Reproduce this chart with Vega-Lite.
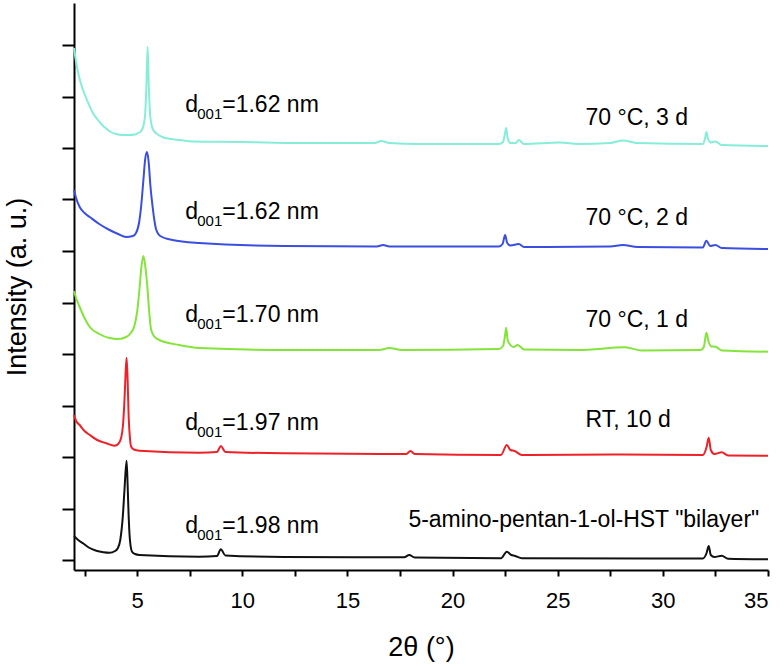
{
  "$schema": "https://vega.github.io/schema/vega-lite/v6.json",
  "width": 694,
  "height": 567,
  "autosize": {"type": "none"},
  "padding": {"left": 74, "top": 3, "right": 16, "bottom": 97},
  "background": "white",
  "config": {
    "view": {"stroke": null},
    "font": "Liberation Sans",
    "text": {"font": "Liberation Sans"}
  },
  "datasets": {
    "traces": [
      {"s": "3d", "x": 2.0, "y": 512}, {"s": "3d", "x": 2.1, "y": 498}, {"s": "3d", "x": 2.2, "y": 487}, {"s": "3d", "x": 2.35, "y": 475}, {"s": "3d", "x": 2.5, "y": 466}, {"s": "3d", "x": 2.7, "y": 456}, {"s": "3d", "x": 2.9, "y": 447}, {"s": "3d", "x": 3.1, "y": 441}, {"s": "3d", "x": 3.3, "y": 436}, {"s": "3d", "x": 3.5, "y": 432}, {"s": "3d", "x": 3.75, "y": 428}, {"s": "3d", "x": 4.0, "y": 426}, {"s": "3d", "x": 4.3, "y": 425}, {"s": "3d", "x": 4.6, "y": 425}, {"s": "3d", "x": 4.9, "y": 425.5}, {"s": "3d", "x": 5.05, "y": 427}, {"s": "3d", "x": 5.2, "y": 429}, {"s": "3d", "x": 5.3, "y": 434}, {"s": "3d", "x": 5.38, "y": 445}, {"s": "3d", "x": 5.44, "y": 472}, {"s": "3d", "x": 5.5, "y": 513}, {"s": "3d", "x": 5.56, "y": 472}, {"s": "3d", "x": 5.62, "y": 445}, {"s": "3d", "x": 5.7, "y": 434}, {"s": "3d", "x": 5.8, "y": 429}, {"s": "3d", "x": 5.95, "y": 426}, {"s": "3d", "x": 6.2, "y": 423}, {"s": "3d", "x": 6.6, "y": 421}, {"s": "3d", "x": 7.0, "y": 420}, {"s": "3d", "x": 7.64, "y": 418.5}, {"s": "3d", "x": 10, "y": 418}, {"s": "3d", "x": 12.7, "y": 417}, {"s": "3d", "x": 16.3, "y": 417}, {"s": "3d", "x": 16.6, "y": 419}, {"s": "3d", "x": 17.0, "y": 417}, {"s": "3d", "x": 18.4, "y": 416}, {"s": "3d", "x": 22.2, "y": 416}, {"s": "3d", "x": 22.4, "y": 418}, {"s": "3d", "x": 22.48, "y": 425}, {"s": "3d", "x": 22.55, "y": 432}, {"s": "3d", "x": 22.62, "y": 422}, {"s": "3d", "x": 22.75, "y": 417}, {"s": "3d", "x": 23.0, "y": 417}, {"s": "3d", "x": 23.15, "y": 420}, {"s": "3d", "x": 23.4, "y": 416}, {"s": "3d", "x": 25.1, "y": 417.5}, {"s": "3d", "x": 26, "y": 416}, {"s": "3d", "x": 27.5, "y": 417}, {"s": "3d", "x": 28.1, "y": 419.5}, {"s": "3d", "x": 28.8, "y": 417}, {"s": "3d", "x": 31.9, "y": 416}, {"s": "3d", "x": 32.0, "y": 421}, {"s": "3d", "x": 32.07, "y": 428}, {"s": "3d", "x": 32.15, "y": 421}, {"s": "3d", "x": 32.28, "y": 417.5}, {"s": "3d", "x": 32.5, "y": 418.5}, {"s": "3d", "x": 32.8, "y": 415}, {"s": "3d", "x": 35, "y": 414},

      {"s": "2d", "x": 2.0, "y": 370}, {"s": "2d", "x": 2.1, "y": 362}, {"s": "2d", "x": 2.27, "y": 353}, {"s": "2d", "x": 2.5, "y": 347}, {"s": "2d", "x": 2.75, "y": 343}, {"s": "2d", "x": 3.2, "y": 336}, {"s": "2d", "x": 3.69, "y": 330}, {"s": "2d", "x": 4.1, "y": 326}, {"s": "2d", "x": 4.48, "y": 323}, {"s": "2d", "x": 4.8, "y": 324}, {"s": "2d", "x": 4.95, "y": 327}, {"s": "2d", "x": 5.1, "y": 338}, {"s": "2d", "x": 5.19, "y": 353}, {"s": "2d", "x": 5.3, "y": 380}, {"s": "2d", "x": 5.38, "y": 400}, {"s": "2d", "x": 5.47, "y": 408}, {"s": "2d", "x": 5.55, "y": 398}, {"s": "2d", "x": 5.63, "y": 375}, {"s": "2d", "x": 5.74, "y": 353}, {"s": "2d", "x": 5.82, "y": 340}, {"s": "2d", "x": 5.9, "y": 331}, {"s": "2d", "x": 6.1, "y": 324}, {"s": "2d", "x": 6.68, "y": 320}, {"s": "2d", "x": 7.95, "y": 317}, {"s": "2d", "x": 12, "y": 314}, {"s": "2d", "x": 16.4, "y": 313.5}, {"s": "2d", "x": 16.7, "y": 315}, {"s": "2d", "x": 17, "y": 313.5}, {"s": "2d", "x": 22.2, "y": 313.5}, {"s": "2d", "x": 22.38, "y": 316}, {"s": "2d", "x": 22.5, "y": 325}, {"s": "2d", "x": 22.6, "y": 317}, {"s": "2d", "x": 22.75, "y": 314.5}, {"s": "2d", "x": 23.15, "y": 316}, {"s": "2d", "x": 23.4, "y": 313}, {"s": "2d", "x": 27.5, "y": 313.5}, {"s": "2d", "x": 28.1, "y": 315}, {"s": "2d", "x": 28.8, "y": 313}, {"s": "2d", "x": 31.9, "y": 312.5}, {"s": "2d", "x": 32.07, "y": 319.3}, {"s": "2d", "x": 32.25, "y": 314}, {"s": "2d", "x": 32.5, "y": 315}, {"s": "2d", "x": 32.8, "y": 312}, {"s": "2d", "x": 35, "y": 311},

      {"s": "1d", "x": 2.0, "y": 269}, {"s": "1d", "x": 2.1, "y": 262}, {"s": "1d", "x": 2.27, "y": 253}, {"s": "1d", "x": 2.5, "y": 242}, {"s": "1d", "x": 2.75, "y": 233}, {"s": "1d", "x": 3.2, "y": 226}, {"s": "1d", "x": 3.69, "y": 222}, {"s": "1d", "x": 4.1, "y": 221}, {"s": "1d", "x": 4.48, "y": 223}, {"s": "1d", "x": 4.7, "y": 227}, {"s": "1d", "x": 4.87, "y": 234}, {"s": "1d", "x": 5.0, "y": 248}, {"s": "1d", "x": 5.11, "y": 270}, {"s": "1d", "x": 5.2, "y": 292}, {"s": "1d", "x": 5.3, "y": 304}, {"s": "1d", "x": 5.4, "y": 292}, {"s": "1d", "x": 5.5, "y": 270}, {"s": "1d", "x": 5.58, "y": 247}, {"s": "1d", "x": 5.66, "y": 231}, {"s": "1d", "x": 5.8, "y": 224}, {"s": "1d", "x": 6.06, "y": 220}, {"s": "1d", "x": 7.0, "y": 215}, {"s": "1d", "x": 7.95, "y": 212}, {"s": "1d", "x": 12, "y": 210}, {"s": "1d", "x": 16.5, "y": 210}, {"s": "1d", "x": 17.0, "y": 212}, {"s": "1d", "x": 17.6, "y": 210}, {"s": "1d", "x": 22.2, "y": 211}, {"s": "1d", "x": 22.4, "y": 214}, {"s": "1d", "x": 22.48, "y": 222}, {"s": "1d", "x": 22.55, "y": 232.3}, {"s": "1d", "x": 22.62, "y": 220}, {"s": "1d", "x": 22.75, "y": 215}, {"s": "1d", "x": 22.9, "y": 213}, {"s": "1d", "x": 23.1, "y": 215}, {"s": "1d", "x": 23.4, "y": 210.5}, {"s": "1d", "x": 26, "y": 210}, {"s": "1d", "x": 28.2, "y": 212.7}, {"s": "1d", "x": 29, "y": 209.5}, {"s": "1d", "x": 31.8, "y": 210}, {"s": "1d", "x": 31.95, "y": 213}, {"s": "1d", "x": 32.07, "y": 227.3}, {"s": "1d", "x": 32.18, "y": 218}, {"s": "1d", "x": 32.3, "y": 213.5}, {"s": "1d", "x": 32.5, "y": 213.3}, {"s": "1d", "x": 32.8, "y": 209.5}, {"s": "1d", "x": 35, "y": 208.3},

      {"s": "rt", "x": 2.0, "y": 145}, {"s": "rt", "x": 2.1, "y": 139}, {"s": "rt", "x": 2.27, "y": 135}, {"s": "rt", "x": 2.5, "y": 129}, {"s": "rt", "x": 2.75, "y": 125}, {"s": "rt", "x": 3.1, "y": 120}, {"s": "rt", "x": 3.53, "y": 116.7}, {"s": "rt", "x": 3.93, "y": 114.3}, {"s": "rt", "x": 4.1, "y": 116}, {"s": "rt", "x": 4.24, "y": 122}, {"s": "rt", "x": 4.33, "y": 135}, {"s": "rt", "x": 4.4, "y": 160}, {"s": "rt", "x": 4.45, "y": 185}, {"s": "rt", "x": 4.5, "y": 202.3}, {"s": "rt", "x": 4.55, "y": 180}, {"s": "rt", "x": 4.6, "y": 143}, {"s": "rt", "x": 4.66, "y": 122}, {"s": "rt", "x": 4.72, "y": 113.3}, {"s": "rt", "x": 4.85, "y": 110.5}, {"s": "rt", "x": 5.11, "y": 109.3}, {"s": "rt", "x": 7.95, "y": 107.3}, {"s": "rt", "x": 8.8, "y": 108}, {"s": "rt", "x": 8.98, "y": 114}, {"s": "rt", "x": 9.2, "y": 108}, {"s": "rt", "x": 12, "y": 106.7}, {"s": "rt", "x": 17.8, "y": 106}, {"s": "rt", "x": 18.0, "y": 109}, {"s": "rt", "x": 18.2, "y": 106}, {"s": "rt", "x": 22.3, "y": 105}, {"s": "rt", "x": 22.58, "y": 115}, {"s": "rt", "x": 22.75, "y": 110}, {"s": "rt", "x": 22.95, "y": 109}, {"s": "rt", "x": 23.3, "y": 105}, {"s": "rt", "x": 28, "y": 105.5}, {"s": "rt", "x": 31.9, "y": 105}, {"s": "rt", "x": 32.08, "y": 113}, {"s": "rt", "x": 32.18, "y": 122.3}, {"s": "rt", "x": 32.28, "y": 110}, {"s": "rt", "x": 32.45, "y": 106}, {"s": "rt", "x": 32.8, "y": 107.7}, {"s": "rt", "x": 33.1, "y": 104.5}, {"s": "rt", "x": 35, "y": 104.3},

      {"s": "bi", "x": 2.0, "y": 24}, {"s": "bi", "x": 2.2, "y": 20}, {"s": "bi", "x": 2.43, "y": 16.7}, {"s": "bi", "x": 2.7, "y": 12.5}, {"s": "bi", "x": 3.06, "y": 9.3}, {"s": "bi", "x": 3.4, "y": 7.8}, {"s": "bi", "x": 3.69, "y": 7.3}, {"s": "bi", "x": 3.95, "y": 9}, {"s": "bi", "x": 4.08, "y": 11.7}, {"s": "bi", "x": 4.2, "y": 20}, {"s": "bi", "x": 4.32, "y": 43.3}, {"s": "bi", "x": 4.4, "y": 70}, {"s": "bi", "x": 4.5, "y": 99.3}, {"s": "bi", "x": 4.55, "y": 75}, {"s": "bi", "x": 4.6, "y": 43.3}, {"s": "bi", "x": 4.66, "y": 20}, {"s": "bi", "x": 4.76, "y": 8.3}, {"s": "bi", "x": 4.9, "y": 6}, {"s": "bi", "x": 5.11, "y": 5}, {"s": "bi", "x": 7.95, "y": 3.3}, {"s": "bi", "x": 8.8, "y": 4}, {"s": "bi", "x": 8.98, "y": 10.7}, {"s": "bi", "x": 9.2, "y": 4.5}, {"s": "bi", "x": 12, "y": 3}, {"s": "bi", "x": 17.7, "y": 2.7}, {"s": "bi", "x": 17.94, "y": 5}, {"s": "bi", "x": 18.2, "y": 2.5}, {"s": "bi", "x": 22.3, "y": 1.7}, {"s": "bi", "x": 22.58, "y": 8.3}, {"s": "bi", "x": 22.8, "y": 5}, {"s": "bi", "x": 22.95, "y": 4.3}, {"s": "bi", "x": 23.3, "y": 1.7}, {"s": "bi", "x": 31.9, "y": 1.5}, {"s": "bi", "x": 32.08, "y": 7}, {"s": "bi", "x": 32.18, "y": 14}, {"s": "bi", "x": 32.28, "y": 5}, {"s": "bi", "x": 32.45, "y": 3}, {"s": "bi", "x": 32.8, "y": 4.3}, {"s": "bi", "x": 33.1, "y": 1.2}, {"s": "bi", "x": 35, "y": 0.7}
    ],
    "dlabels": [
      {"x": 7.29, "y": 448, "value": "=1.62 nm"},
      {"x": 7.29, "y": 341, "value": "=1.62 nm"},
      {"x": 7.29, "y": 238, "value": "=1.70 nm"},
      {"x": 7.29, "y": 130, "value": "=1.97 nm"},
      {"x": 7.29, "y": 27, "value": "=1.98 nm"}
    ],
    "clabels": [
      {"x": 26.32, "y": 435, "label": "70 °C, 3 d"},
      {"x": 26.32, "y": 335, "label": "70 °C, 2 d"},
      {"x": 26.32, "y": 233, "label": "70 °C, 1 d"},
      {"x": 26.32, "y": 133, "label": "RT, 10 d"},
      {"x": 17.9, "y": 33, "label": "5-amino-pentan-1-ol-HST \"bilayer\""}
    ]
  },
  "layer": [
    {
      "data": {"name": "traces"},
      "mark": {"type": "line", "strokeWidth": 2, "interpolate": "monotone"},
      "encoding": {
        "x": {
          "field": "x", "type": "quantitative",
          "scale": {"domain": [2, 35], "nice": false, "zero": false},
          "axis": {
            "title": "2θ (°)",
            "values": [2.5, 5, 7.5, 10, 12.5, 15, 17.5, 20, 22.5, 25, 27.5, 30, 32.5, 35],
            "labelExpr": "datum.value % 5 === 0 ? datum.label : ''",
            "grid": false,
            "domainColor": "black", "domainWidth": 2,
            "tickColor": "black", "tickWidth": 2, "tickSize": 6,
            "labelFont": "Liberation Sans", "labelFontSize": 22, "labelColor": "black",
            "labelPadding": 14,
            "titleFont": "Liberation Sans", "titleFontSize": 27, "titleFontWeight": "normal", "titleColor": "black",
            "titlePadding": 23
          }
        },
        "y": {
          "field": "y", "type": "quantitative",
          "scale": {"domain": [-10, 557], "nice": false, "zero": false},
          "axis": {
            "title": "Intensity (a. u.)",
            "values": [0, 51.5, 103, 154.5, 206, 257.5, 309, 360.5, 412, 463.5, 515],
            "labels": false,
            "grid": false,
            "domainColor": "black", "domainWidth": 2,
            "tickColor": "black", "tickWidth": 2, "tickSize": 12,
            "titleFont": "Liberation Sans", "titleFontSize": 27, "titleFontWeight": "normal", "titleColor": "black",
            "titlePadding": 30
          }
        },
        "color": {
          "field": "s", "type": "nominal",
          "scale": {"domain": ["3d", "2d", "1d", "rt", "bi"], "range": ["#86eed8", "#3a4ee0", "#84e43a", "#ee2128", "#111111"]},
          "legend": null
        },
        "order": {"field": "x", "type": "quantitative"}
      }
    },
    {
      "data": {"name": "dlabels"},
      "mark": {"type": "text", "text": "d", "align": "left", "baseline": "alphabetic", "fontSize": 23, "font": "Liberation Sans", "color": "black"},
      "encoding": {"x": {"field": "x", "type": "quantitative"}, "y": {"field": "y", "type": "quantitative"}}
    },
    {
      "data": {"name": "dlabels"},
      "mark": {"type": "text", "text": "001", "align": "left", "baseline": "alphabetic", "fontSize": 15, "dx": 12, "dy": 7, "font": "Liberation Sans", "color": "black"},
      "encoding": {"x": {"field": "x", "type": "quantitative"}, "y": {"field": "y", "type": "quantitative"}}
    },
    {
      "data": {"name": "dlabels"},
      "mark": {"type": "text", "align": "left", "baseline": "alphabetic", "fontSize": 23, "dx": 37, "font": "Liberation Sans", "color": "black"},
      "encoding": {"x": {"field": "x", "type": "quantitative"}, "y": {"field": "y", "type": "quantitative"}, "text": {"field": "value"}}
    },
    {
      "data": {"name": "clabels"},
      "mark": {"type": "text", "align": "left", "baseline": "alphabetic", "fontSize": 23, "font": "Liberation Sans", "color": "black"},
      "encoding": {"x": {"field": "x", "type": "quantitative"}, "y": {"field": "y", "type": "quantitative"}, "text": {"field": "label"}}
    }
  ]
}
